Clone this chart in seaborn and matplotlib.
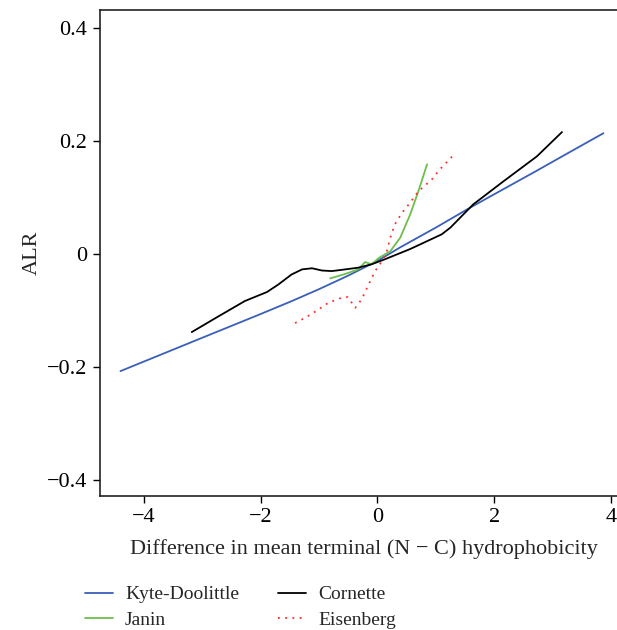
import matplotlib
matplotlib.use("Agg")
import matplotlib.pyplot as plt
import seaborn as sns
import pandas as pd

# Kyte-Doolittle (blue)
kd_x = [-4.40, -3.0, -2.0, -1.465, -1.0, -0.5, 0.0, 0.39, 1.0, 1.60, 2.0, 2.7, 3.30, 3.87]
kd_y = [-0.207, -0.148, -0.106, -0.083, -0.062, -0.038, -0.012, 0.012, 0.047, 0.083, 0.106, 0.146, 0.181, 0.214]

# Cornette (black)
co_x = [-3.18, -2.72, -2.27, -1.89, -1.70, -1.47, -1.29, -1.12, -0.95, -0.78, -0.55, -0.33, -0.10,
        0.13, 0.56, 1.10, 1.25, 1.64, 2.16, 2.73, 3.16]
co_y = [-0.138, -0.110, -0.083, -0.067, -0.054, -0.036, -0.027, -0.025, -0.029, -0.030, -0.027, -0.024, -0.018,
        -0.009, 0.009, 0.035, 0.047, 0.088, 0.129, 0.173, 0.216]

# Janin (green)
ja_x = [-0.81, -0.55, -0.33, -0.21, -0.10, 0.02, 0.22, 0.39, 0.56, 0.70, 0.85]
ja_y = [-0.043, -0.035, -0.027, -0.014, -0.018, -0.007, 0.005, 0.029, 0.070, 0.111, 0.159]

# Eisenberg (red dotted)
ei_x = [-1.41, -1.21, -1.01, -0.84, -0.61, -0.51, -0.44, -0.38, -0.27, -0.18, -0.04, 0.08, 0.16, 0.22,
        0.30, 0.42, 0.56, 0.70, 0.93, 1.07, 1.30]
ei_y = [-0.122, -0.111, -0.098, -0.086, -0.077, -0.076, -0.086, -0.095, -0.080, -0.060, -0.030, -0.012, 0.005,
        0.029, 0.053, 0.073, 0.091, 0.111, 0.132, 0.150, 0.175]

xticks = [-4, -2, 0, 2, 4]
yticks = [-0.4, -0.2, 0, 0.2, 0.4]
ytick_labels = ["\u22120.4", "\u22120.2", "0", "0.2", "0.4"]
xtick_labels = ["\u22124", "\u22122", "0", "2", "4"]

sns.set_style("ticks")
plt.rcParams['font.family'] = ['Liberation Serif', 'DejaVu Serif']

fig = plt.figure(figsize=(6.17, 6.30), dpi=100)
# axes extends slightly beyond the right edge of the figure (cropped frame)
ax = fig.add_axes([100/617, 1 - 496/630, 528/617, 486/630])

series = [
    ("Kyte-Doolittle", kd_x, kd_y, "#3a5fb8", "-"),
    ("Janin", ja_x, ja_y, "#6cbf4a", "-"),
    ("Cornette", co_x, co_y, "#000000", "-"),
    ("Eisenberg", ei_x, ei_y, "#ff2a2a", (0, (1, 3))),
]
handles = {}
for name, xs, ys, col, ls in series:
    df = pd.DataFrame({"x": xs, "y": ys})
    sns.lineplot(data=df, x="x", y="y", ax=ax, color=col, linestyle=ls,
                 linewidth=1.3, estimator=None, sort=True, label=name, legend=False)
    handles[name] = ax.lines[-1]

ax.set_xlim(-4.75, 4.29)
ax.set_ylim(-0.428, 0.432)
ax.set_xticks(xticks)
ax.set_xticklabels(xtick_labels)
ax.set_yticks(yticks)
ax.set_yticklabels(ytick_labels)
ax.tick_params(axis='both', labelsize=16, length=5, width=1, direction='out',
               colors='black', pad=4)
for s in ax.spines.values():
    s.set_linewidth(1.2)
    s.set_color("#222222")
ax.set_xlabel("Difference in mean terminal (N \u2212 C) hydrophobicity", fontsize=16, labelpad=8)
ax.set_ylabel("ALR", fontsize=16, labelpad=4)

order = ["Kyte-Doolittle", "Janin", "Cornette", "Eisenberg"]
fig.legend([handles[n] for n in order], order, loc="upper left",
           bbox_to_anchor=(77/617, 1 - 578/630), ncol=2, frameon=False,
           fontsize=14, handlelength=1.45, columnspacing=2.0, labelspacing=0.42,
           handletextpad=0.62, borderaxespad=0)

fig.savefig("out.png", dpi=100)
